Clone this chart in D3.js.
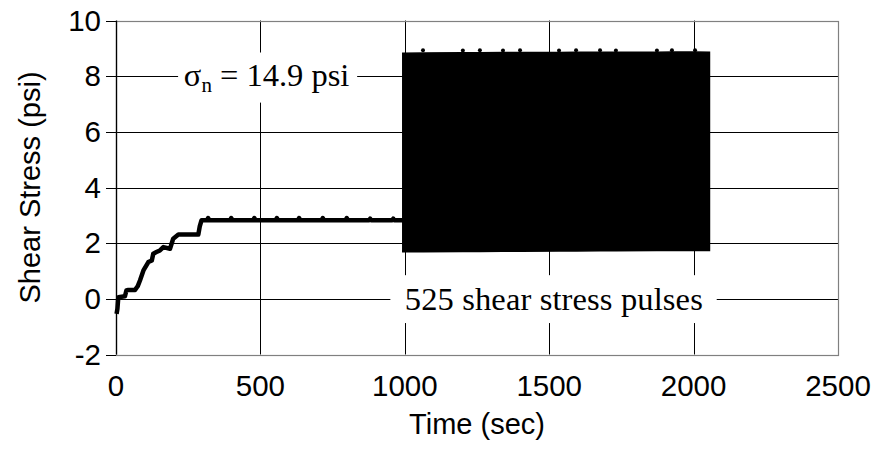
<!DOCTYPE html>
<html lang="en">
<head>
  <meta charset="UTF-8">
  <title>Shear Stress vs Time</title>
  <script src="https://d3js.org/d3.v7.min.js"></script>
  <style>
    body {
      margin: 0;
      background: #fff;
    }
    .tick-label {
      font-family: "Liberation Sans", Arial, sans-serif;
      font-size: 29.5px;
      fill: #000;
    }
    .axis-title {
      font-family: "Liberation Sans", Arial, sans-serif;
      font-size: 29px;
      fill: #000;
    }
    .note {
      font-family: "Liberation Serif", "Times New Roman", serif;
      font-size: 32.5px;
      fill: #000;
    }
    .grid {
      stroke: #000;
      stroke-width: 1;
    }
  </style>
</head>
<body>
  <div id="chart"></div>

  <script>
    // tick values
    const xTicks = [0, 500, 1000, 1500, 2000, 2500];
    const yTicks = [-2, 0, 2, 4, 6, 8, 10];

    // monotonic loading: stepped ramp then a held stress (sec, psi)
    const loadTime = [2, 5, 8, 31, 36, 43, 66, 75, 83, 95, 112, 124, 129, 140, 152, 164, 187, 198, 216, 250, 285, 290, 296,
      315, 319, 323, 395, 399, 403, 475, 479, 483, 553, 557, 561, 630, 634, 638, 712, 716, 720,
      795, 799, 803, 876, 880, 884, 956, 960, 964, 995];
    const loadStress = [-0.54, -0.35, 0.06, 0.09, 0.3, 0.32, 0.32, 0.45, 0.66, 1.02, 1.32, 1.38, 1.62, 1.68, 1.74, 1.86, 1.80, 2.16, 2.31, 2.31, 2.31, 2.6, 2.82,
      2.82, 2.9, 2.82, 2.82, 2.9, 2.82, 2.82, 2.9, 2.82, 2.82, 2.9, 2.82, 2.82, 2.9, 2.82, 2.82, 2.9, 2.82,
      2.82, 2.9, 2.82, 2.82, 2.88, 2.82, 2.82, 2.88, 2.82, 2.82];

    // cyclic loading, 525 pulses: envelope of peaks and troughs (sec, psi)
    const pulseTime = [993, 1063, 1201, 1260, 1340, 1399, 1534, 1593, 1676, 1731, 1873, 1925, 2005, 2055];
    const pulseMax = [8.82, 8.93, 8.92, 8.93, 8.92, 8.93, 8.92, 8.93, 8.93, 8.92, 8.92, 8.93, 8.93, 8.86];
    const pulseMin = [1.69, 1.69, 1.70, 1.70, 1.71, 1.71, 1.72, 1.72, 1.73, 1.73, 1.74, 1.74, 1.74, 1.74];
    const peakBase = [8.82, 8.83, 8.84, 8.84, 8.85, 8.85, 8.85, 8.86, 8.86, 8.86, 8.86, 8.87, 8.87, 8.86];

    const width = 878, height = 468;
    const margin = {left: 116, right: 40, top: 20.5, bottom: 113.5};

    const x = d3.scaleLinear().domain([0, 2500]).range([margin.left, width - margin.right]);
    const y = d3.scaleLinear().domain([-2, 10]).range([height - margin.bottom, margin.top]);

    const svg = d3.select("#chart")
      .append("svg")
      .attr("width", width)
      .attr("height", height);

    // gridlines
    svg.selectAll("line.hgrid")
      .data(yTicks.filter(d => d > -2 && d < 10))
      .enter().append("line")
      .attr("class", "grid")
      .attr("x1", x(0)).attr("x2", x(2500))
      .attr("y1", d => Math.round(y(d)) + 0.5).attr("y2", d => Math.round(y(d)) + 0.5);

    svg.selectAll("line.vgrid")
      .data(xTicks.filter(d => d > 0 && d < 2500))
      .enter().append("line")
      .attr("class", "grid")
      .attr("x1", d => Math.round(x(d)) + 0.5).attr("x2", d => Math.round(x(d)) + 0.5)
      .attr("y1", y(10)).attr("y2", y(-2));

    // plot border (gray top/right/bottom)
    svg.append("rect")
      .attr("x", x(0) + 0.5).attr("y", Math.round(y(10)) + 0.5)
      .attr("width", x(2500) - x(0))
      .attr("height", Math.round(y(-2)) - Math.round(y(10)))
      .attr("fill", "none")
      .attr("stroke", "#808080")
      .attr("stroke-width", 1.2);

    // left axis with ticks
    svg.append("line")
      .attr("x1", x(0) + 0.5).attr("x2", x(0) + 0.5)
      .attr("y1", y(10)).attr("y2", y(-2))
      .attr("stroke", "#000").attr("stroke-width", 1.3);
    svg.selectAll("line.ytick")
      .data(yTicks)
      .enter().append("line")
      .attr("x1", x(0) - 10).attr("x2", x(0))
      .attr("y1", d => Math.round(y(d)) + 0.5).attr("y2", d => Math.round(y(d)) + 0.5)
      .attr("stroke", "#000");

    // tick labels
    svg.selectAll("text.ylab")
      .data(yTicks)
      .enter().append("text")
      .attr("class", "tick-label")
      .attr("x", x(0) - 15)
      .attr("y", d => y(d) + 10)
      .attr("text-anchor", "end")
      .text(d => d);

    svg.selectAll("text.xlab")
      .data(xTicks)
      .enter().append("text")
      .attr("class", "tick-label")
      .attr("x", d => x(d))
      .attr("y", y(-2) + 41)
      .attr("text-anchor", "middle")
      .text(d => d);

    // axis titles
    svg.append("text")
      .attr("class", "axis-title")
      .attr("x", (x(0) + x(2500)) / 2)
      .attr("y", y(-2) + 79)
      .attr("text-anchor", "middle")
      .text("Time (sec)");

    svg.append("text")
      .attr("class", "axis-title")
      .attr("transform", `translate(40,${(y(10) + y(-2)) / 2}) rotate(-90)`)
      .attr("text-anchor", "middle")
      .text("Shear Stress (psi)");

    // annotation boxes (white background breaks the gridlines)
    svg.append("rect")
      .attr("x", x(215)).attr("y", y(8.85))
      .attr("width", x(835) - x(215)).attr("height", y(7.05) - y(8.85))
      .attr("fill", "#fff");
    const sig = svg.append("text")
      .attr("class", "note")
      .attr("x", x(235))
      .attr("y", y(7.65));
    sig.append("tspan").text("σ");
    sig.append("tspan").attr("font-size", "21px").attr("dy", 6).text("n");
    sig.append("tspan").attr("dy", -6).text(" = 14.9 psi");

    svg.append("rect")
      .attr("x", x(950)).attr("y", y(0.85))
      .attr("width", x(2080) - x(950)).attr("height", y(-0.87) - y(0.85))
      .attr("fill", "#fff");
    svg.append("text")
      .attr("class", "note")
      .attr("x", x(1000))
      .attr("y", y(-0.4))
      .attr("textLength", 298)
      .text("525 shear stress pulses");

    // monotonic stage
    const line = d3.line().x(d => x(d[0])).y(d => y(d[1]));
    svg.append("path")
      .datum(d3.zip(loadTime, loadStress))
      .attr("d", line)
      .attr("fill", "none")
      .attr("stroke", "#000")
      .attr("stroke-width", 4.5)
      .attr("stroke-linejoin", "round");

    // cyclic stage: pulses drawn as their filled envelope
    const band = d3.area()
      .x(d => x(d[0]))
      .y0(d => y(d[1]))
      .y1(d => y(d[2]));
    svg.append("path")
      .datum(d3.zip(pulseTime, pulseMin, peakBase))
      .attr("d", band)
      .attr("fill", "#000")
      .attr("stroke", "#000")
      .attr("stroke-width", 1.5);

    // small peak overshoots on top of the band
    svg.selectAll("circle.peak")
      .data(d3.zip(pulseTime, pulseMax).filter(d => d[1] > 8.9))
      .enter().append("circle")
      .attr("cx", d => x(d[0]))
      .attr("cy", d => y(d[1]))
      .attr("r", 2)
      .attr("fill", "#000");
  </script>
</body>
</html>
